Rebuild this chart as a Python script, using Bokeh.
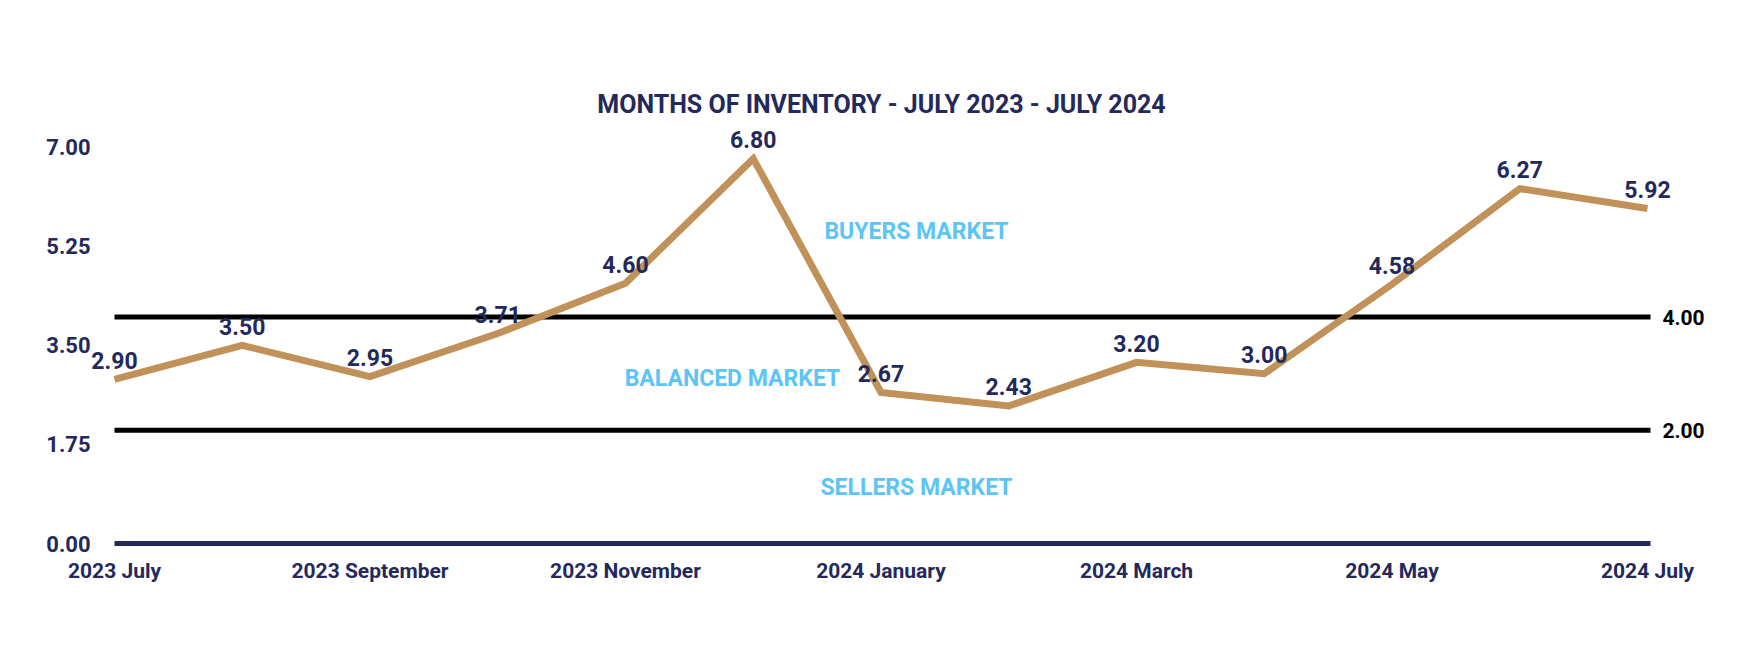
from bokeh.plotting import figure
from bokeh.models import ColumnDataSource, Range1d
from bokeh.core.properties import value
from bokeh.embed import file_html
from bokeh.resources import INLINE

# ---- data ----
months = ["2023 July", "2023 August", "2023 September", "2023 October",
          "2023 November", "2023 December", "2024 January", "2024 February",
          "2024 March", "2024 April", "2024 May", "2024 June", "2024 July"]
inventory = [2.90, 3.50, 2.95, 3.71, 4.60, 6.80, 2.67, 2.43, 3.20, 3.00,
             4.58, 6.27, 5.92]
y_ticks = [0.00, 1.75, 3.50, 5.25, 7.00]
x_tick_idx = [0, 2, 4, 6, 8, 10, 12]
thresholds = [4.00, 2.00]
zones = ["BUYERS MARKET", "BALANCED MARKET", "SELLERS MARKET"]
title_text = "MONTHS OF INVENTORY - JULY 2023 - JULY 2024"

NAVY = "#24295B"
TAN = "#C09158"
BLUE = "#5BC4F8"
FONT = value("Roboto")

# ---- layout (pixel geometry of the plotting area) ----
W, H = 1760, 660
X0_PX, DX_PX = 114, 127.75      # pixel of first month, pixels per month
Y0_PX, DY_PX = 543, 56.6        # pixel of value 0, pixels per unit


def px2x(px):
    return (px - X0_PX) / DX_PX


def px2y(py):
    return (Y0_PX - py) / DY_PX


p = figure(width=W, height=H, output_backend="svg", toolbar_location=None,
           x_range=Range1d(px2x(0), px2x(W)), y_range=Range1d(px2y(H), px2y(0)),
           min_border=0, x_axis_type=None, y_axis_type=None)
p.outline_line_color = None
p.background_fill_color = "white"
p.border_fill_color = "white"
p.grid.visible = False

n = len(months)
x_end = px2x(1650)

# baseline (x axis line)
p.segment(x0=[0], y0=[y_ticks[0]], x1=[x_end], y1=[y_ticks[0]],
          line_color=NAVY, line_width=5)

# threshold lines + right labels
p.segment(x0=[0] * len(thresholds), y0=thresholds,
          x1=[x_end] * len(thresholds), y1=thresholds,
          line_color="black", line_width=5)
p.text(x=[n - 1] * len(thresholds), y=thresholds,
       text=["%.2f" % t for t in thresholds], x_offset=36,
       text_align="center", text_baseline="middle", text_font=FONT,
       text_font_style="bold", text_font_size="21px", text_color="black")

# y tick labels
p.text(x=[px2x(90)] * len(y_ticks), y=y_ticks,
       text=["%.2f" % t for t in y_ticks], text_align="right",
       text_baseline="middle", text_font=FONT, text_font_style="bold",
       text_font_size="22px", text_color=NAVY)

# x tick labels
p.text(x=x_tick_idx, y=[px2y(570)] * len(x_tick_idx),
       text=[months[i] for i in x_tick_idx], text_align="center",
       text_baseline="middle", text_font=FONT, text_font_style="bold",
       text_font_size="21px", text_color=NAVY)

# market zone labels
p.text(x=[px2x(916), px2x(732), px2x(916)],
       y=[px2y(231), px2y(378), px2y(487)],
       text=zones, text_align="center", text_baseline="middle",
       text_font=FONT, text_font_style="bold", text_font_size="23px",
       text_color=BLUE)

# main line
src = ColumnDataSource(dict(x=list(range(n)), y=inventory,
                            lab=["%.2f" % v for v in inventory]))
p.line("x", "y", source=src, line_color=TAN, line_width=7, line_join="miter")

# data labels
p.text("x", "y", text="lab", source=src, y_offset=-19,
       text_align="center", text_baseline="alphabetic", text_font=FONT,
       text_font_style="bold", text_font_size="23px", text_color=NAVY)

# title
p.text(x=[px2x(881)], y=[px2y(104)], text=[title_text], text_align="center",
       text_baseline="middle", text_font=FONT, text_font_style="bold",
       text_font_size="25px", text_color=NAVY)

open("out.html", "w").write(file_html(p, INLINE))
